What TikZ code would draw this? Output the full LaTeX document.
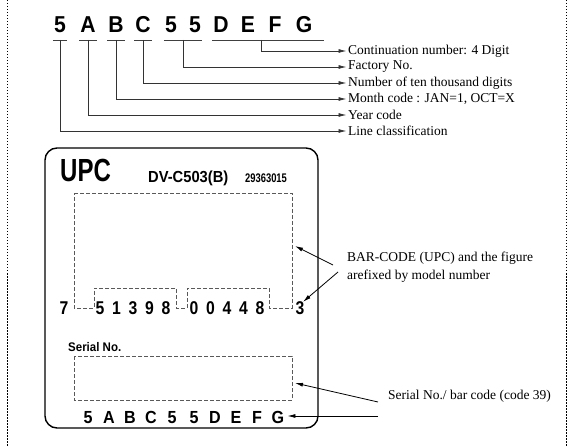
\documentclass[tikz,border=0pt]{standalone}
\usepackage{fontspec}
\setmainfont{Liberation Serif}
\newfontfamily\codefont[FakeStretch=0.92]{Liberation Sans Bold}
\newfontfamily\condfont[FakeStretch=0.75]{Liberation Sans Bold}
\newfontfamily\barfont[FakeStretch=0.85,LetterSpace=42]{Liberation Sans Bold}
\usetikzlibrary{arrows.meta,calc}

\begin{document}
\begin{tikzpicture}[
    x=1pt, y=-1pt,
    >={Latex[length=8pt,width=4pt]},
    code/.style={font=\codefont\fontsize{23}{23}\selectfont,
                 anchor=base, inner sep=0pt},
    serial/.style={font=\codefont\fontsize{17.5}{17.5}\selectfont,
                   anchor=base, inner sep=0pt},
    bar/.style={font=\barfont\fontsize{18.5}{18.5}\selectfont,
                anchor=base, inner sep=0pt},
    note/.style={font=\fontsize{13.5}{18}\selectfont, anchor=west,
                 inner sep=0pt, align=left},
    uline/.style={line width=0.8pt, black!75},
    lead/.style={->, line width=0.8pt, black!80, shorten >=1.5pt},
    ptr/.style={->, line width=0.8pt, black},
    dashbox/.style={line width=0.8pt, black!65, dash pattern=on 4pt off 2pt},
    frame/.style={line width=0.7pt, dash pattern=on 1.5pt off 1.5pt},
    panel/.style={line width=1.4pt, rounded corners=12pt},
]
  \useasboundingbox (0,0) rectangle (573,446);

  % page edges
  \draw[frame] (7,0) -- (7,446);
  \draw[frame] (566,0) -- (566,446);

  % Code letters
  \foreach \ch/\x [count=\i] in {5/60,A/88,B/116,C/143,5/171,5/195,D/221,E/248,F/275,G/304}
    \node[code] (c\i) at (\x,33) {\ch};

  \coordinate (u) at (0,40);
  \coordinate (m5) at ($(c5)!0.5!(c6)$);
  \coordinate (m7) at ($(c8)!0.5!(c9)$);

  % Underlines
  \foreach \i in {1,...,4}
    \draw[uline] ([xshift=-1pt]c\i.west |- u) -- ([xshift=1pt]c\i.east |- u);
  \draw[uline] ([xshift=-1pt]c5.west |- u) -- ([xshift=1pt]c6.east |- u);
  \draw[uline] ([xshift=-1pt]c7.west |- u) -- ([xshift=12pt]c10.east |- u);

  % Meanings
  \node[note] (n1) at (348,51)  {Continuation number: 4 Digit};
  \node[note] (n2) at (348,67)  {Factory No.};
  \node[note] (n3) at (348,83)  {Number of ten thousand digits};
  \node[note] (n4) at (348,99)  {Month code : JAN=1, OCT=X};
  \node[note] (n5) at (348,115) {Year code};
  \node[note] (n6) at (348,131) {Line classification};

  % Leaders
  \draw[lead] (m7 |- u) |- (n1.west);
  \draw[lead] (m5 |- u) |- (n2.west);
  \draw[lead] (c4 |- u) |- (n3.west);
  \draw[lead] (c3 |- u) |- (n4.west);
  \draw[lead] (c2 |- u) |- (n5.west);
  \draw[lead] (c1 |- u) |- (n6.west);

  % Label
  \draw[panel] (45,148) rectangle (318,428);
  \node[font=\condfont\fontsize{32}{32}\selectfont, anchor=base west,
        inner sep=0pt] (upc) at (60,182) {UPC};
  \node[font=\codefont\fontsize{16}{16}\selectfont, anchor=base west,
        inner sep=0pt] (model) at (148,183) {DV-C503(B)};
  \node[font=\condfont\fontsize{12.5}{12.5}\selectfont, anchor=base west,
        inner sep=0pt] (lot) at (245,183) {29363015};

  % Bar code area
  \draw[dashbox] (74,193) -- (292,193) -- (292,308) -- (269,308) -- (269,288)
    -- (187,288) -- (187,308) -- (176,308) -- (176,288) -- (94,288) -- (94,308)
    -- (74,308) -- cycle;
  \node[bar] (d1) at (64,315) {7};
  \node[bar] (d2) at (133,315) {51398};
  \node[bar] (d3) at (227,315) {00448};
  \node[bar] (d4) at (300,315) {3};

  % Serial number
  \node[font=\codefont\fontsize{12.5}{12.5}\selectfont, anchor=base west,
        inner sep=0pt] (sn) at (68,352) {Serial No.};
  \draw[dashbox] (74,356) rectangle (292,400);
  \foreach \ch/\x [count=\i] in {5/88,A/109,B/130,C/151,5/172,5/194,D/215,E/236,F/257,G/278}
    \node[serial] (s\i) at (\x,423) {\ch};

  % Notes with pointers
  \node[note] (barnote) at (347,267)
    {BAR-CODE (UPC) and the figure\\arefixed by model number};
  \coordinate (b1) at (333,265);
  \coordinate (b2) at (338,272);
  \coordinate (bt) at (295,246);
  \draw[ptr] (b1) -- (bt);
  \draw[ptr] (b2) -- ([xshift=3pt]d4.north);

  \node[note] (sernote) at (388,396) {Serial No./ bar code (code 39)};
  \coordinate (r1) at (378,402);
  \coordinate (r2) at (378,416);
  \coordinate (st) at (295,383);
  \draw[ptr] (r1) -- (st);
  \draw[ptr] (r2) -- ([xshift=3pt]s10.east |- r2);
\end{tikzpicture}
\end{document}
